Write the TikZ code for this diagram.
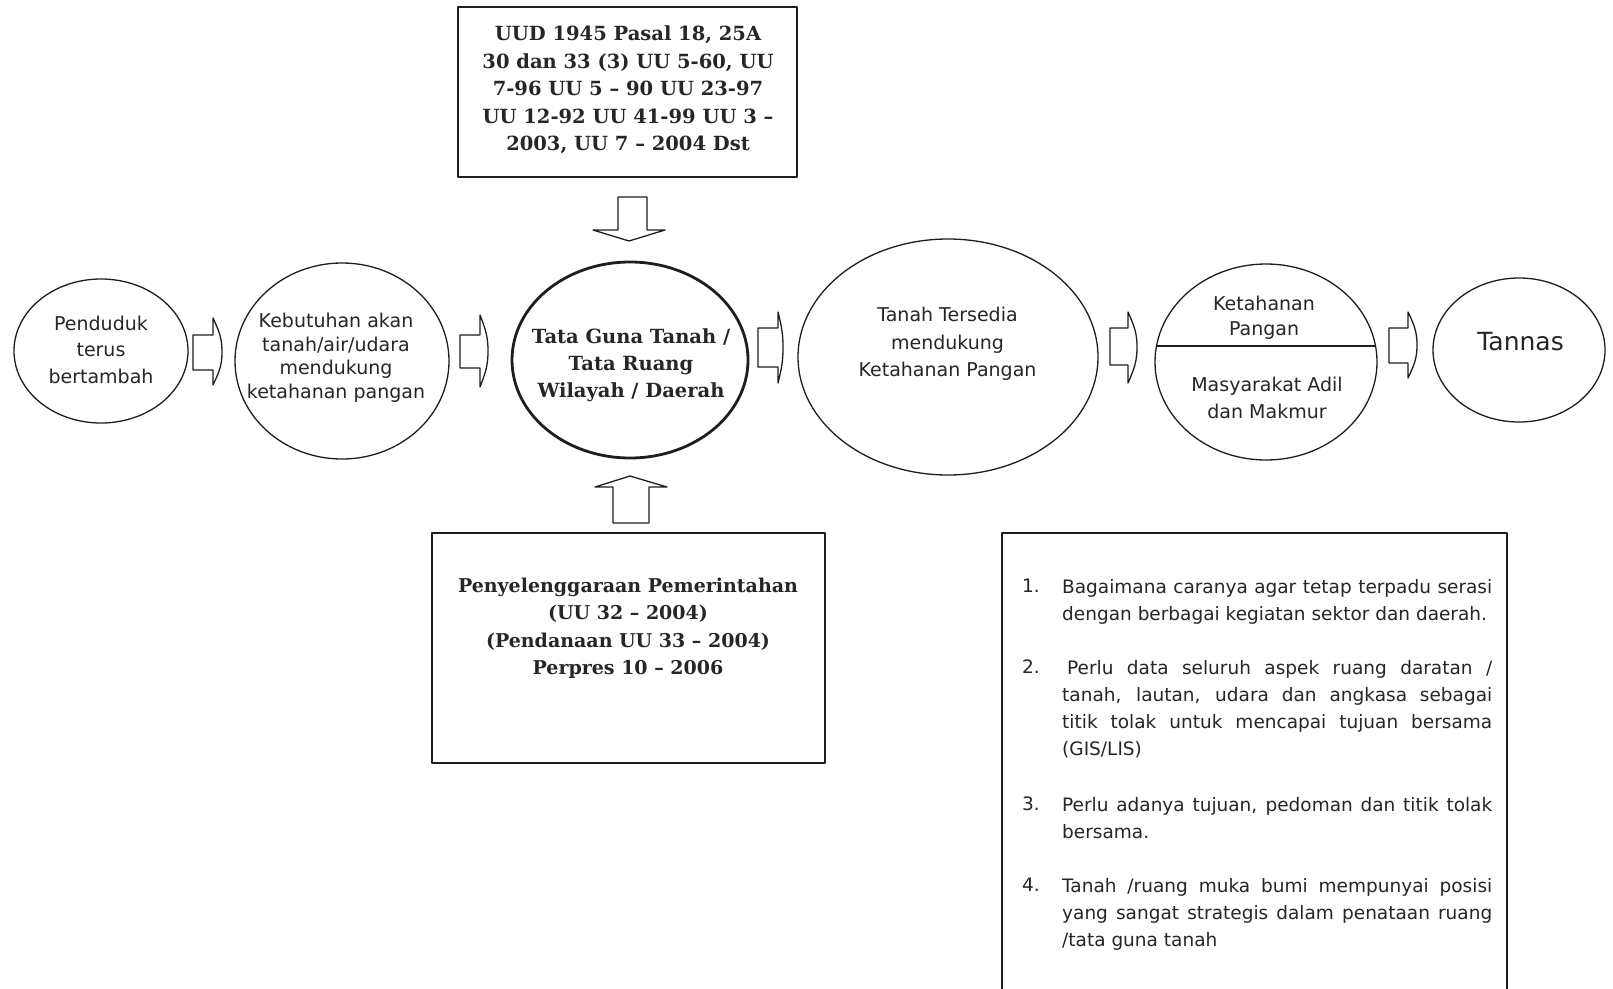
\documentclass[tikz,border=0pt]{standalone}
\usepackage{fontspec}
\setmainfont{DejaVu Sans}
\newfontfamily\lawserif{DejaVu Serif}
\usetikzlibrary{shapes.geometric,calc}
\definecolor{ink}{HTML}{1E1E1E}
\definecolor{txt}{HTML}{262626}
\newcommand{\plainsz}{\fontsize{19}{26.7}\selectfont}
\newcommand{\lawsz}{\lawserif\bfseries\fontsize{19.5}{27.6}\selectfont}
\newcommand{\listsz}{\fontsize{18.5}{27.2}\selectfont}
\newcommand{\jl}[1]{\makebox[430pt][s]{#1}}
\newcommand{\blkarrow}[8]{%
  \draw[blk] (#1,#4) -- (#2,#4) -- (#2,#6)
    .. controls ({#2+0.7*(#3-#2)},{#6+0.2*(#7-#6)}) and (#3,{#8-0.2*(#7-#6)}) .. (#3,#8)
    .. controls (#3,{#8+0.2*(#7-#6)}) and ({#2+0.7*(#3-#2)},{#7-0.2*(#7-#6)}) .. (#2,#7)
    -- (#2,#5) -- (#1,#5) -- cycle;}
\begin{document}
\begin{tikzpicture}[x=1pt,y=-1pt,line join=round,
  ell/.style={draw=ink,ellipse,inner sep=0pt,line width=1.3pt},
  boldell/.style={draw=ink,ellipse,inner sep=0pt,line width=2.8pt},
  box/.style={draw=ink,rectangle,inner sep=0pt,line width=1.7pt},
  blk/.style={draw=ink,line width=1.3pt,fill=white},
  ptext/.style={inner sep=0pt,text=txt,font=\plainsz,align=center},
  ltext/.style={inner sep=0pt,text=txt,font=\lawsz,align=center},
  listtext/.style={inner sep=0pt,text=txt,font=\listsz,align=left}]
\useasboundingbox (0,0) rectangle (1613,988);
\fill[white] (0,0) rectangle (1613,988);

% ellipses
\node[ell,minimum width=174pt,minimum height=144pt] (pend) at (101,351) {};
\node[ptext,anchor=north] (pendt) at (101,315.6) {Penduduk\\terus\\bertambah};

\node[ell,minimum width=214pt,minimum height=196pt] (keb) at (342,361) {};
\node[ptext,anchor=north,font=\fontsize{19}{23.5}\selectfont] (kebt) at (336,313.3) {Kebutuhan akan\\tanah/air/udara\\mendukung\\ketahanan pangan};

\node[boldell,minimum width=236pt,minimum height=196pt] (tata) at (630,360) {};
\node[ltext,anchor=north,font=\lawserif\bfseries\fontsize{19.5}{27}\selectfont] (tatat) at (631,328) {Tata Guna Tanah /\\Tata Ruang\\Wilayah / Daerah};

\node[ell,minimum width=300pt,minimum height=236pt] (tanah) at (948,357) {};
\node[ptext,anchor=north,font=\fontsize{19}{27.8}\selectfont] (tanaht) at (947.5,306.6) {Tanah Tersedia\\mendukung\\Ketahanan Pangan};

\node[ell,minimum width=222pt,minimum height=196pt] (keta) at (1266,362) {};
\draw[ink,line width=1.6pt] ($(keta.center)+(-109.5,-16)$) coordinate (chl) -- ($(keta.center)+(109.5,-16)$) coordinate (chr);
\node[ptext,anchor=north,font=\fontsize{19}{25}\selectfont] (ketat) at (1264,295.6) {Ketahanan\\Pangan};
\node[ptext,anchor=north] (masy) at (1267,377.3) {Masyarakat Adil\\dan Makmur};

\node[ell,minimum width=172pt,minimum height=144pt] (tannas) at (1519,350) {};
\node[inner sep=0pt,text=txt,font=\fontsize{25}{30}\selectfont,anchor=base] (tannast) at (1520.5,350) {Tannas};

% horizontal block arrows
\blkarrow{193}{213}{222}{335}{370}{318}{385}{352}
\blkarrow{460}{480}{488}{335}{368}{315}{387}{351}
\blkarrow{758}{778}{783}{328}{367}{312}{383}{347.5}
\blkarrow{1110}{1128}{1137}{328}{365}{312}{383}{347}
\blkarrow{1389}{1408}{1417}{328}{363}{312}{378}{345}

% boxes
\node[box,minimum width=339pt,minimum height=170pt] (law) at (627.5,92) {};
\node[ltext,anchor=north] (lawt) at (628,25.5) {UUD 1945 Pasal 18, 25A\\30 dan 33 (3) UU 5-60, UU\\7-96 UU 5 – 90 UU 23-97\\UU 12-92 UU 41-99 UU 3 –\\2003, UU 7 – 2004 Dst};

\draw[blk] (618,197) -- (647,197) -- (647,230) -- (665,230) -- (629,241) -- (593,230) -- (618,230) -- cycle;

\node[box,minimum width=393pt,minimum height=230pt] (gov) at (628.5,648) {};
\node[ltext,anchor=north,font=\lawserif\bfseries\fontsize{19}{27.3}\selectfont] (govt) at (628,578) {Penyelenggaraan Pemerintahan\\(UU 32 – 2004)\\(Pendanaan UU 33 – 2004)\\Perpres 10 – 2006};

\draw[blk] (613,523) -- (649,523) -- (649,487) -- (667,487) -- (630,476) -- (595,487) -- (613,487) -- cycle;

\node[box,minimum width=505pt,minimum height=480pt,anchor=north] (notes) at (1254.5,532) {};
\node[listtext,anchor=north west] (n1) at (1022,579) {1.};
\node[listtext,anchor=north west] (i1) at (1062,579) {\jl{Bagaimana caranya agar tetap terpadu serasi}\\dengan berbagai kegiatan sektor dan daerah.};
\node[listtext,anchor=north west] (n2) at (1022,660) {2.};
\node[listtext,anchor=north west] (i2) at (1062,660) {\jl{\hspace*{5pt}Perlu data seluruh aspek ruang daratan /}\\\jl{tanah, lautan, udara dan angkasa sebagai}\\\jl{titik tolak untuk mencapai tujuan bersama}\\(GIS/LIS)};
\node[listtext,anchor=north west] (n3) at (1022,797) {3.};
\node[listtext,anchor=north west] (i3) at (1062,797) {\jl{Perlu adanya tujuan, pedoman dan titik tolak}\\bersama.};
\node[listtext,anchor=north west] (n4) at (1022,878) {4.};
\node[listtext,anchor=north west] (i4) at (1062,878) {\jl{Tanah /ruang muka bumi mempunyai posisi}\\\jl{yang sangat strategis dalam penataan ruang}\\/tata guna tanah};
\end{tikzpicture}
\end{document}
